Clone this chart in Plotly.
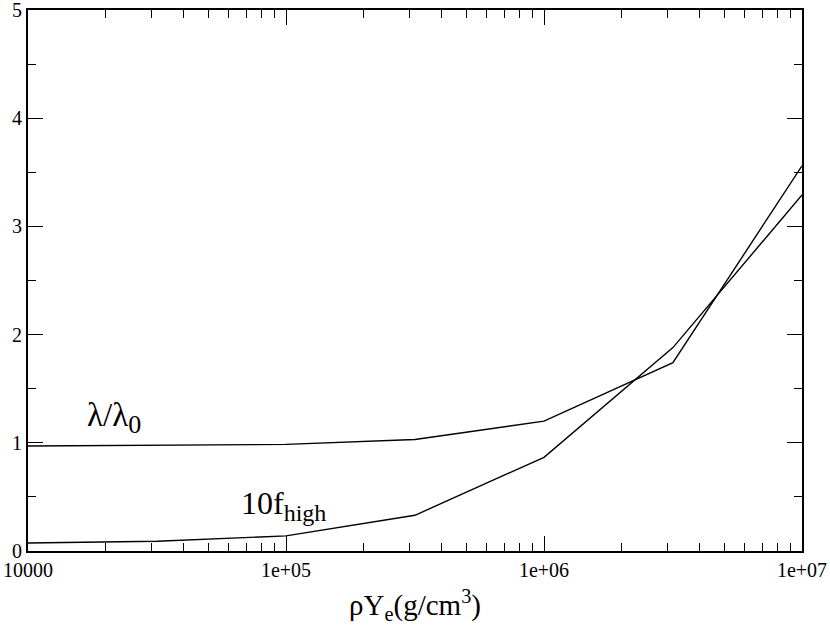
import plotly.graph_objects as go

rho_ye = [1e4, 3.16e4, 1e5, 3.16e5, 1e6, 3.16e6, 1e7]
lambda_ratio = [0.97, 0.975, 0.985, 1.03, 1.2, 1.74, 3.56]
ten_f_high = [0.074, 0.09, 0.14, 0.33, 0.866, 1.88, 3.29]

x_tick_vals = [1e4, 1e5, 1e6, 1e7]
x_tick_text = ["10000", "1e+05", "1e+06", "1e+07"]
y_tick_vals = [0, 1, 2, 3, 4, 5]

minor_x = [m * 10 ** e for e in range(4, 7) for m in range(2, 10)]

FONT = "Times New Roman"

fig = go.Figure()
for ys in (lambda_ratio, ten_f_high):
    fig.add_trace(go.Scatter(x=rho_ye, y=ys, mode="lines",
                             line=dict(color="black", width=1.4),
                             showlegend=False, hoverinfo="skip"))

fig.update_layout(
    width=830, height=632,
    margin=dict(l=28, r=28, t=10, b=81),
    paper_bgcolor="white", plot_bgcolor="white",
    font=dict(family=FONT, color="black", size=20),
    xaxis=dict(
        type="log", range=[4, 7], automargin=False,
        tickvals=x_tick_vals, ticktext=x_tick_text,
        ticks="inside", ticklen=15, tickwidth=1.3, tickcolor="black",
        showline=True, linecolor="black", linewidth=2, mirror="ticks",
        showgrid=False, zeroline=False, ticklabeloverflow="allow",
        tickfont=dict(size=20, family=FONT, color="black"),
        minor=dict(tickvals=minor_x, ticks="inside", ticklen=8,
                   tickwidth=1.3, tickcolor="black", showgrid=False),
        title=dict(text="ρY<sub>e</sub>(g/cm<sup>3</sup>)",
                   font=dict(size=29, family=FONT, color="black")),
    ),
    yaxis=dict(
        range=[0, 5], tickvals=y_tick_vals, automargin=False,
        ticks="inside", ticklen=15, tickwidth=1.3, tickcolor="black",
        showline=True, linecolor="black", linewidth=2, mirror="ticks",
        showgrid=False, zeroline=False, ticklabeloverflow="allow",
        tickfont=dict(size=20, family=FONT, color="black"),
        minor=dict(dtick=0.5, ticks="inside", ticklen=8,
                   tickwidth=1.3, tickcolor="black", showgrid=False),
    ),
    annotations=[
        dict(text="λ/λ<sub><span style='font-size:26px'>0</span></sub>",
             xref="paper", yref="paper",
             x=0.073, y=0.245, xanchor="left", yanchor="middle",
             showarrow=False, font=dict(size=33, family=FONT, color="black")),
        dict(text="10f<sub><span style='font-size:24px'>high</span></sub>",
             xref="paper", yref="paper",
             x=0.272, y=0.085, xanchor="left", yanchor="middle",
             showarrow=False, font=dict(size=32, family=FONT, color="black")),
    ],
)

fig.write_html(
    "out.html",
    config={"displayModeBar": False},
    post_script="document.body.style.margin='0';document.body.style.overflow='hidden';",
)
